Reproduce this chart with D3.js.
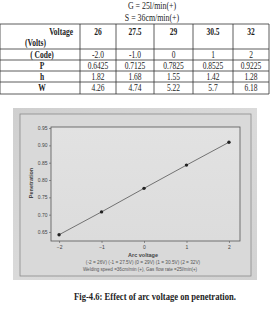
<!DOCTYPE html>
<html>
<head>
<meta charset="utf-8">
<script src="https://cdn.jsdelivr.net/npm/d3@7"></script>
<style>
  body { margin: 0; background: #fff; }
  svg { display: block; }
</style>
</head>
<body>
<div id="chart"></div>
<script>
// Table values
var voltages = ["26", "27.5", "29", "30.5", "32"];
var codeLabels = ["-2.0", "-1.0", "0", "1", "2"];
var pValues = ["0.6425", "0.7125", "0.7825", "0.8525", "0.9225"];
var hValues = ["1.82", "1.68", "1.55", "1.42", "1.28"];
var wValues = ["4.26", "4.74", "5.22", "5.7", "6.18"];

// Plot values
var codes = [-2, -1, 0, 1, 2];
var penetration = [0.642, 0.708, 0.776, 0.843, 0.909];
var yTicks = [0.65, 0.70, 0.75, 0.80, 0.85, 0.90, 0.95];

var width = 271, height = 311;
var squash = 0.75; // scanned page is narrowed horizontally

var svg = d3.select("#chart").append("svg")
    .attr("width", width)
    .attr("height", height);

function addText(x, y, str, opts) {
    opts = opts || {};
    return svg.append("text")
        .attr("transform", `translate(${x},${y}) scale(${opts.sx || squash},1)`)
        .attr("text-anchor", opts.anchor || "middle")
        .attr("font-family", opts.family || "'Liberation Serif', serif")
        .attr("font-size", opts.size || 10)
        .attr("font-weight", opts.bold ? "bold" : "normal")
        .attr("fill", opts.color || "#222")
        .text(str);
}

// Header lines
addText(152, 9, "G = 25l/min(+)", {size: 10.5});
addText(152, 21, "S = 36cm/min(+)", {size: 10.5});

// Table
var colX = [0, 80, 116, 154, 193, 233, 269];
var rowY = [24, 49, 60, 71, 82, 94];
var tbl = svg.append("g").attr("stroke", "#333").attr("stroke-width", 0.8);
rowY.forEach(function (y) {
    tbl.append("line").attr("x1", colX[0]).attr("x2", colX[6]).attr("y1", y).attr("y2", y);
});
colX.forEach(function (x) {
    tbl.append("line").attr("x1", x).attr("x2", x).attr("y1", rowY[0]).attr("y2", rowY[5]);
});

addText(73, 35, "Voltage", {bold: true, anchor: "end"});
addText(25, 46, "(Volts)", {bold: true, anchor: "start"});
voltages.forEach(function (v, i) {
    addText((colX[i + 1] + colX[i + 2]) / 2, 35, v, {bold: true});
});

var rows = [
    {label: "( Code)", vals: codeLabels},
    {label: "P", vals: pValues},
    {label: "h", vals: hValues},
    {label: "W", vals: wValues}
];
rows.forEach(function (r, k) {
    var base = rowY[k + 1] + 8.5;
    addText(42, base, r.label, {bold: true});
    r.vals.forEach(function (v, i) {
        addText((colX[i + 1] + colX[i + 2]) / 2, base, v);
    });
});

// Photo of the graph
var defs = svg.append("defs");
var g1 = defs.append("linearGradient").attr("id", "photoGrad")
    .attr("x1", 0).attr("y1", 0).attr("x2", 1).attr("y2", 1);
g1.append("stop").attr("offset", "0%").attr("stop-color", "#cfcfcf");
g1.append("stop").attr("offset", "50%").attr("stop-color", "#dadada");
g1.append("stop").attr("offset", "100%").attr("stop-color", "#d2d2d2");
var g2 = defs.append("linearGradient").attr("id", "plotGrad")
    .attr("x1", 0).attr("y1", 0).attr("x2", 0).attr("y2", 1);
g2.append("stop").attr("offset", "0%").attr("stop-color", "#e2e2e2");
g2.append("stop").attr("offset", "100%").attr("stop-color", "#dcdcdc");

svg.append("rect").attr("x", 13).attr("y", 108).attr("width", 244).attr("height", 172)
    .attr("fill", "url(#photoGrad)");
svg.append("rect").attr("x", 20).attr("y", 114).attr("width", 231).attr("height", 162)
    .attr("fill", "#d9d9d9").attr("stroke", "#8a8a8a").attr("stroke-width", 0.8);

var plot = {left: 51, right: 240, top: 127, bottom: 241};
svg.append("rect").attr("x", plot.left).attr("y", plot.top)
    .attr("width", plot.right - plot.left).attr("height", plot.bottom - plot.top)
    .attr("fill", "url(#plotGrad)").attr("stroke", "#555").attr("stroke-width", 0.8);

var xScale = d3.scaleLinear().domain([-2.19, 2.26]).range([plot.left, plot.right]);
var yScale = d3.scaleLinear().domain([0.624, 0.953]).range([plot.bottom, plot.top]);

var xAxis = d3.axisBottom(xScale).tickValues(codes).tickSize(2).tickPadding(2)
    .tickFormat(d3.format("d"));
var yAxis = d3.axisLeft(yScale).tickValues(yTicks).tickSize(2).tickPadding(1.5)
    .tickFormat(d3.format(".2f"));

var gx = svg.append("g").attr("transform", `translate(0,${plot.bottom})`).call(xAxis);
var gy = svg.append("g").attr("transform", `translate(${plot.left},0)`).call(yAxis);
[gx, gy].forEach(function (g) {
    g.select(".domain").remove();
    g.selectAll("line").attr("stroke", "#555").attr("stroke-width", 0.6);
    g.selectAll("text").attr("font-family", "'Liberation Sans', sans-serif")
        .attr("font-size", 5).attr("fill", "#444");
});

// Data line and points
var line = d3.line()
    .x(function (d, i) { return xScale(codes[i]); })
    .y(function (d) { return yScale(d); });
svg.append("path").datum(penetration)
    .attr("d", line)
    .attr("fill", "none")
    .attr("stroke", "#555")
    .attr("stroke-width", 0.8);
svg.selectAll("circle.pt").data(penetration).enter().append("circle")
    .attr("class", "pt")
    .attr("cx", function (d, i) { return xScale(codes[i]); })
    .attr("cy", function (d) { return yScale(d); })
    .attr("r", 1.7)
    .attr("fill", "#222");

// Axis titles and notes
svg.append("text")
    .attr("transform", "translate(33,183) rotate(-90)")
    .attr("text-anchor", "middle")
    .attr("font-family", "'Liberation Sans', sans-serif")
    .attr("font-size", 5.5).attr("font-weight", "bold").attr("fill", "#444")
    .text("Penetration");
addText(143, 257, "Arc voltage", {family: "'Liberation Sans', sans-serif", size: 5.5, bold: true, color: "#444", sx: 1});
addText(143, 264, "(-2 = 26V) (-1 = 27.5V) (0 = 29V) (1 = 30.5V) (2 = 32V)",
    {family: "'Liberation Sans', sans-serif", size: 5, color: "#555", sx: 0.95});
addText(140, 271, "Welding speed =36cm/min (+), Gas flow rate =25l/min(+)",
    {family: "'Liberation Sans', sans-serif", size: 4.8, color: "#555", sx: 0.95});

// Caption
addText(155, 300, "Fig-4.6: Effect of arc voltage on penetration.", {size: 11, bold: true, sx: 0.78});
</script>
</body>
</html>
